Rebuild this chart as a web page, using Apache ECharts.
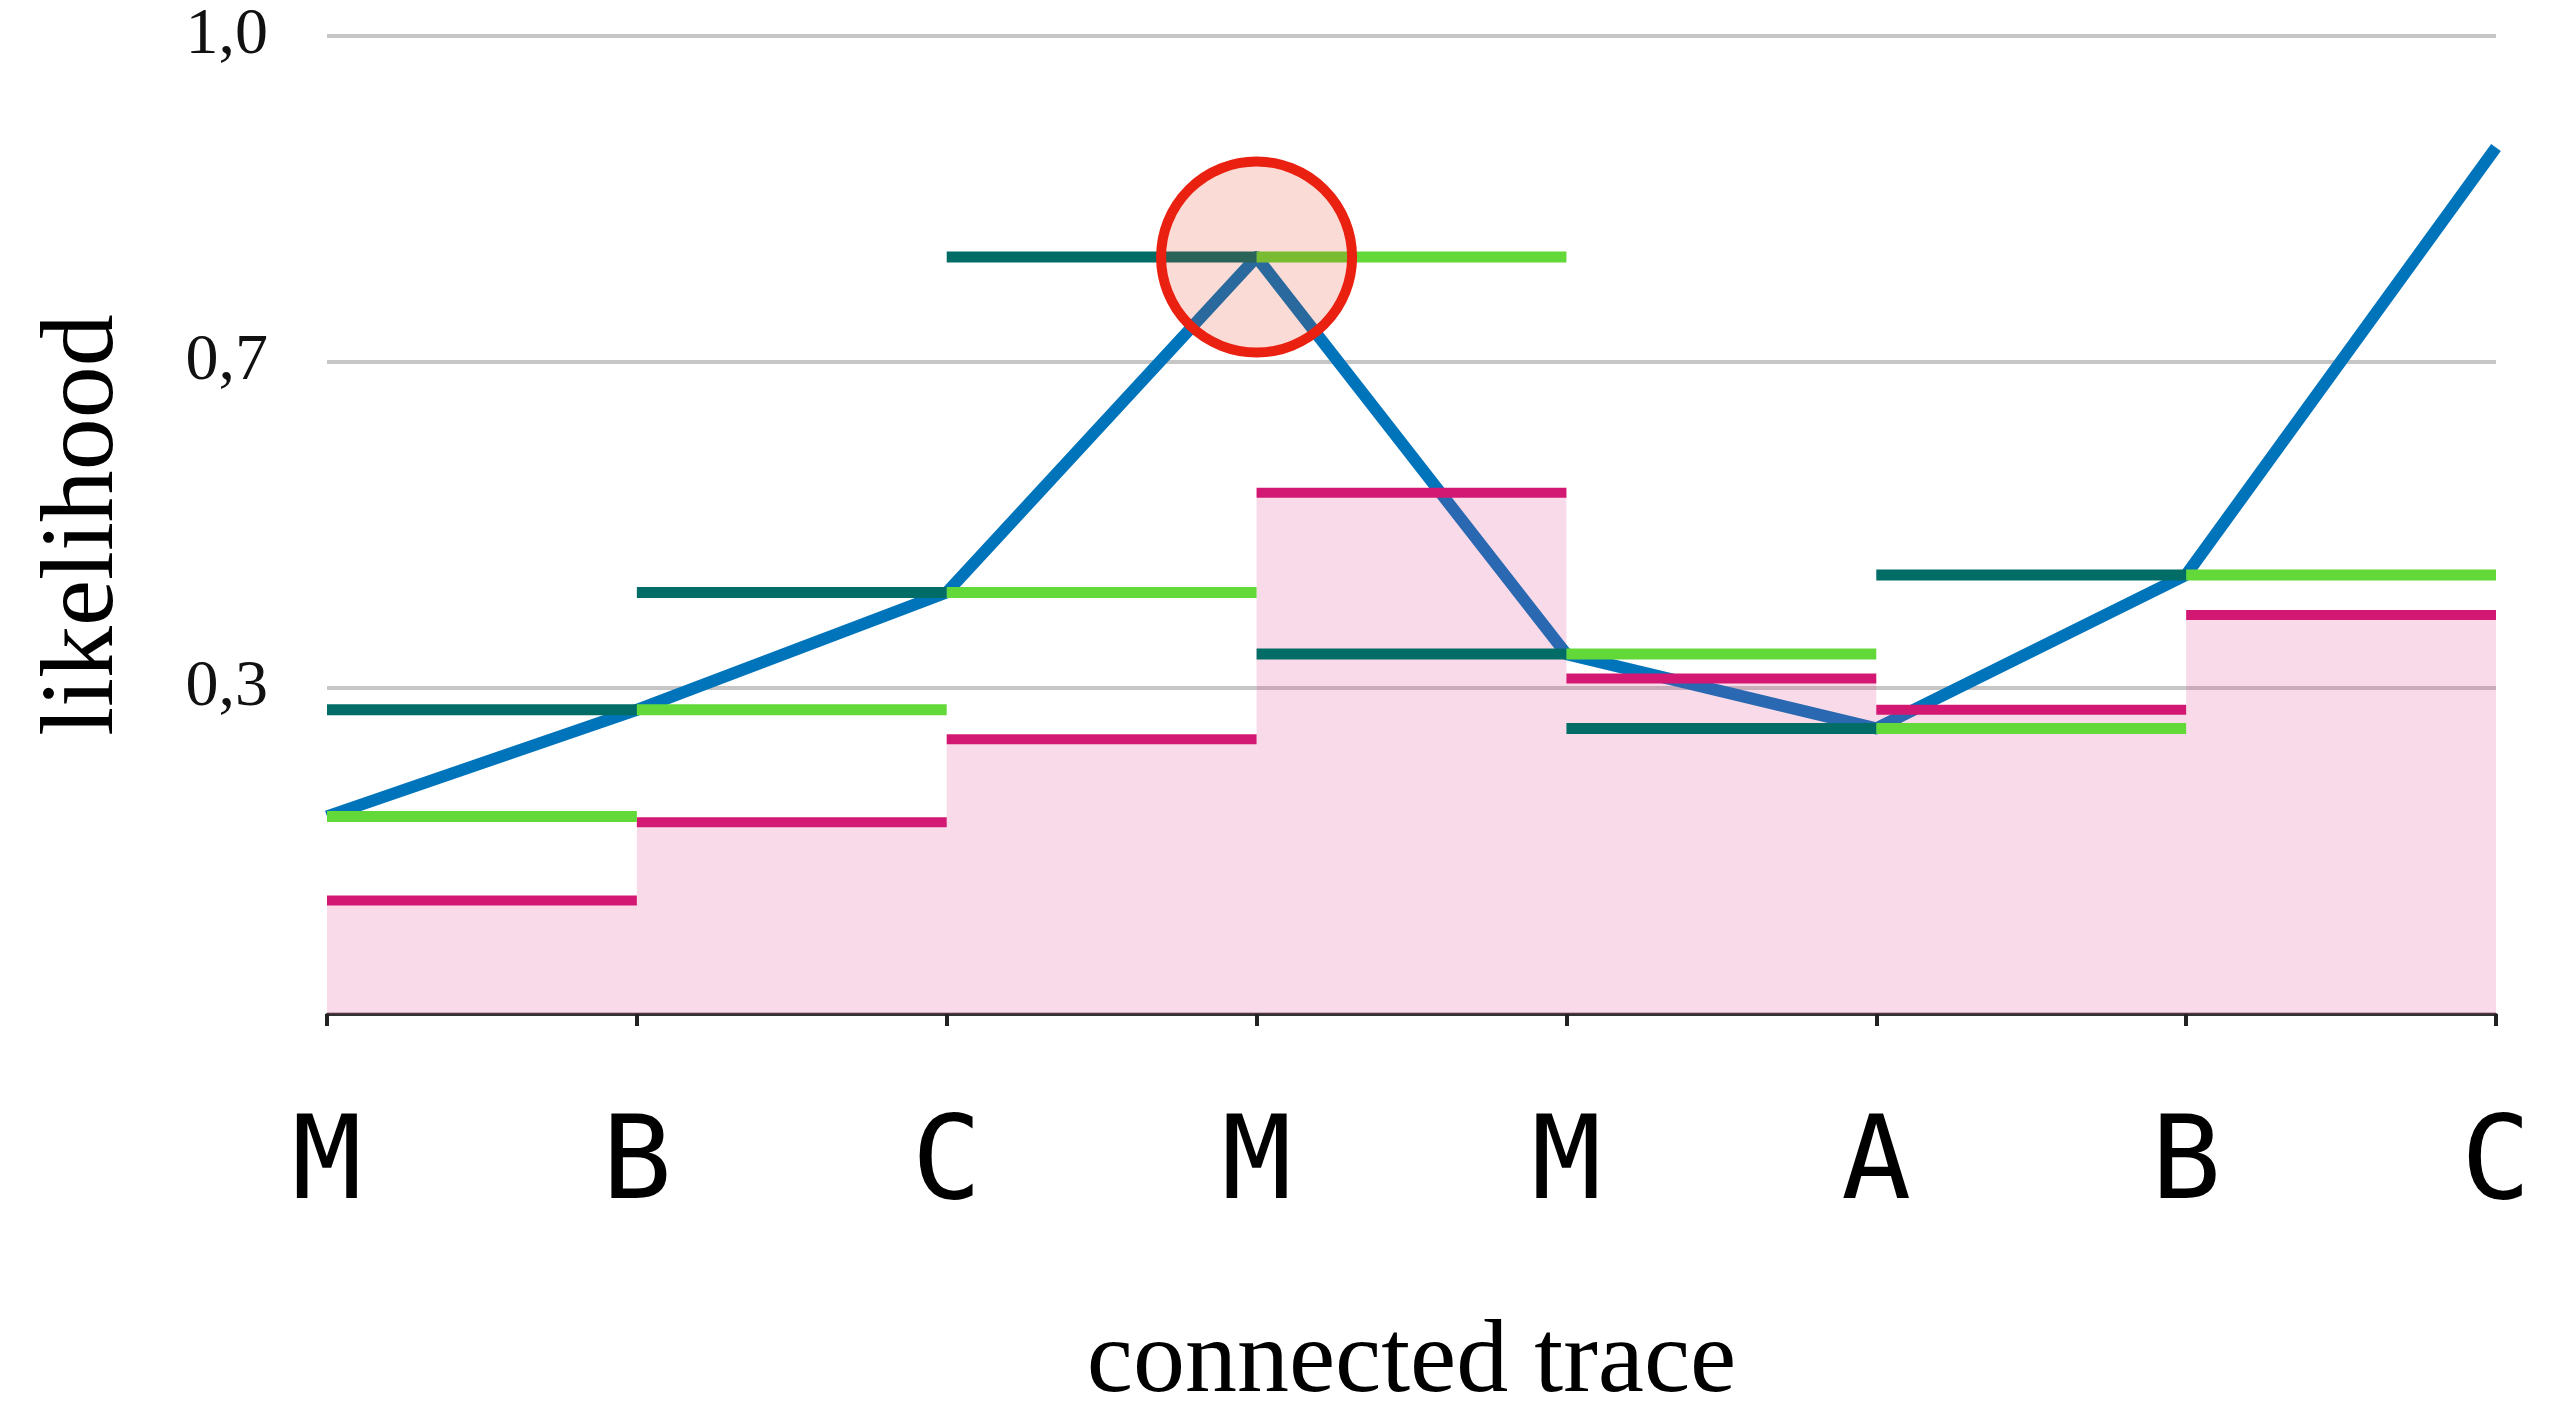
<!DOCTYPE html>
<html>
<head>
<meta charset="utf-8">
<script src="https://cdn.jsdelivr.net/npm/echarts@6.0.0/dist/echarts.min.js"></script>
<style>
html,body{margin:0;padding:0;background:#fff;}
#chart{width:2550px;height:1421px;}
</style>
</head>
<body>
<div id="chart"></div>
<script>
// ---- data ----
const categories = ['M', 'B', 'C', 'M', 'M', 'A', 'B', 'C'];
// blue connected trace (value at each symbol)
const traceLikelihood = [0.202, 0.311, 0.431, 0.774, 0.368, 0.292, 0.449, 0.886];
// green steps (interval i, level of left symbol)
const stepGreen = [0.202, 0.311, 0.431, 0.774, 0.368, 0.292, 0.449];
// dark teal steps (interval i, level of right symbol)
const stepTeal = [0.311, 0.431, 0.774, 0.368, 0.292, 0.449];
// magenta steps with pink fill (interval i)
const stepFloor = [0.116, 0.196, 0.281, 0.533, 0.343, 0.311, 0.408];
// highlighted symbol index (red circle)
const highlightIndex = [3];
// y tick labels (ticks at 0, 1/3, 2/3, 1)
const yTickLabels = ['', '0,3', '0,7', '1,0'];

const chart = echarts.init(document.getElementById('chart'));

function segSeries(name, values, color, width, z) {
  return {
    name: name,
    type: 'custom',
    z: z,
    data: values.map((v, i) => [i, v]),
    encode: { x: 0, y: 1 },
    renderItem: function (params, api) {
      const i = api.value(0), v = api.value(1);
      const p1 = api.coord([i, v]);
      const p2 = api.coord([i + 1, v]);
      return {
        type: 'line',
        shape: { x1: p1[0], y1: p1[1], x2: p2[0], y2: p2[1] },
        style: { stroke: color, lineWidth: width, lineCap: 'butt' }
      };
    }
  };
}

const option = {
  animation: false,
  backgroundColor: '#ffffff',
  grid: { left: 327, right: 54, top: 36, bottom: 385, containLabel: false },
  xAxis: {
    type: 'category',
    data: categories,
    boundaryGap: false,
    name: 'connected trace',
    nameLocation: 'middle',
    nameGap: 298,
    nameTextStyle: { fontFamily: 'Liberation Serif', fontSize: 104, color: '#000' },
    axisLine: { show: true, lineStyle: { color: '#333', width: 3 } },
    axisTick: { show: true, length: 12, lineStyle: { color: '#222', width: 4 } },
    axisLabel: { fontFamily: 'DejaVu Sans Mono', fontSize: 116, color: '#000', margin: 96, interval: 0 },
    splitLine: { show: false }
  },
  yAxis: {
    type: 'value',
    min: 0,
    max: 1,
    interval: 1 / 3,
    name: 'likelihood',
    nameLocation: 'middle',
    nameGap: 190,
    nameRotate: 90,
    nameTextStyle: { fontFamily: 'Liberation Serif', fontSize: 104, color: '#000' },
    axisLine: { show: false },
    axisTick: { show: false },
    axisLabel: {
      fontFamily: 'Liberation Serif', fontSize: 66, color: '#111', margin: 59,
      padding: [8, 0, 0, 0],
      formatter: function (v, idx) { return yTickLabels[idx] !== undefined ? yTickLabels[idx] : ''; }
    },
    splitLine: { show: true, lineStyle: { color: '#c6c6c6', width: 4 } }
  },
  series: [
    {
      name: 'trace',
      type: 'line',
      z: 2,
      data: traceLikelihood,
      symbol: 'none',
      lineStyle: { color: '#0074bb', width: 12, cap: 'butt', join: 'round' }
    },
    {
      name: 'fill',
      type: 'custom',
      z: 3,
      data: stepFloor.map((v, i) => [i, v]),
      encode: { x: 0, y: 1 },
      renderItem: function (params, api) {
        const i = api.value(0), v = api.value(1);
        const p1 = api.coord([i, v]);
        const p2 = api.coord([i + 1, 0]);
        return {
          type: 'rect',
          shape: { x: p1[0], y: p1[1], width: p2[0] - p1[0], height: p2[1] - p1[1] },
          style: { fill: 'rgba(221,58,137,0.19)' }
        };
      }
    },
    segSeries('floor', stepFloor, '#d31873', 10, 4),
    segSeries('teal', stepTeal, '#026d66', 11, 5),
    segSeries('green', stepGreen, '#62d938', 11, 5),
    {
      name: 'highlight',
      type: 'scatter',
      z: 10,
      data: highlightIndex.map(i => [i, traceLikelihood[i]]),
      symbol: 'circle',
      symbolSize: 191,
      itemStyle: { color: 'rgba(228,55,22,0.18)', borderColor: '#ea2010', borderWidth: 10, opacity: 1 }
    }
  ]
};
chart.setOption(option);
</script>
</body>
</html>
